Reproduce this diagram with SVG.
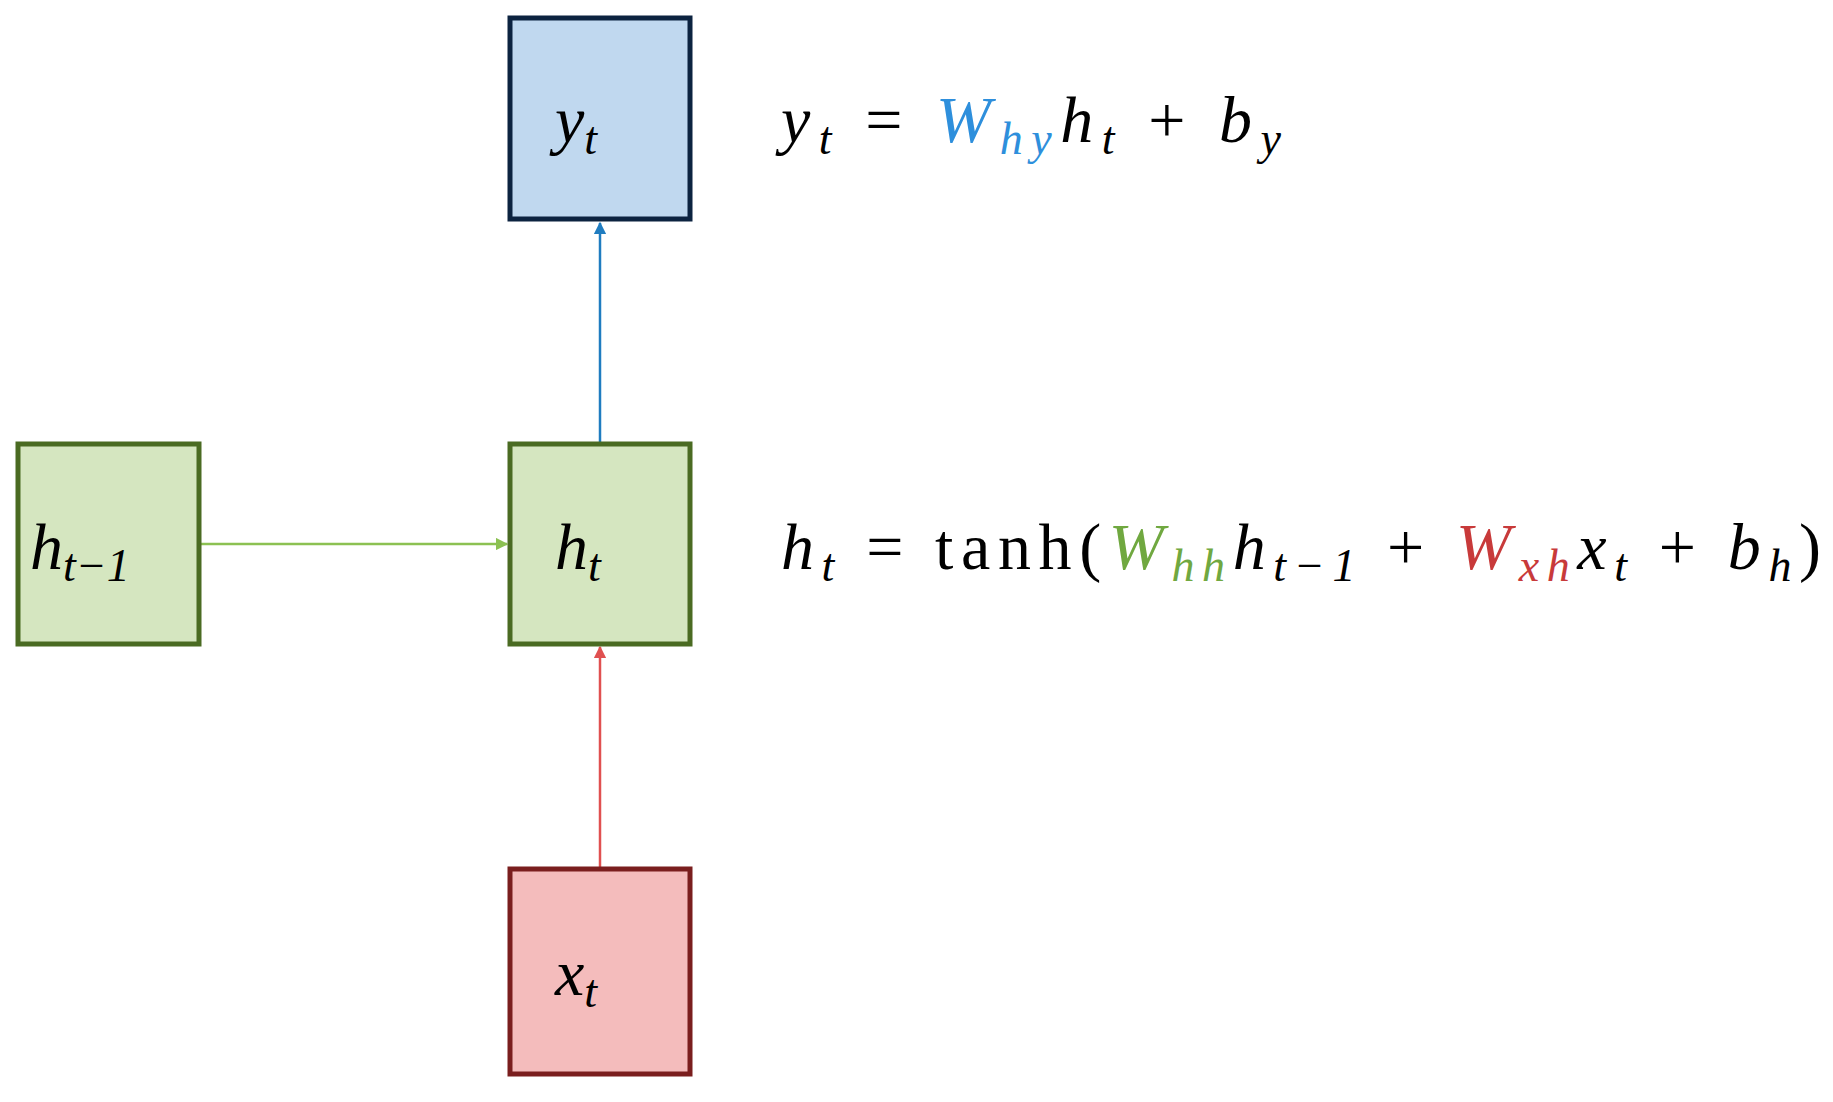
<svg xmlns="http://www.w3.org/2000/svg" width="1833" height="1102" viewBox="0 0 1833 1102">
<style>
text{font-family:"Liberation Serif","DejaVu Serif",serif;font-size:66px;fill:#000}
.i{font-style:italic}
.s{font-size:46px}
.box{stroke-width:5}
</style>
<defs>
<marker id="ab" viewBox="0 0 10 10" refX="9" refY="5" markerWidth="5" markerHeight="5" orient="auto"><path d="M0,0L10,5L0,10z" fill="#1f7cc0"/></marker>
<marker id="ag" viewBox="0 0 10 10" refX="9" refY="5" markerWidth="5" markerHeight="5" orient="auto"><path d="M0,0L10,5L0,10z" fill="#8cc152"/></marker>
<marker id="ar" viewBox="0 0 10 10" refX="9" refY="5" markerWidth="5" markerHeight="5" orient="auto"><path d="M0,0L10,5L0,10z" fill="#e05050"/></marker>
</defs>
<g id="connectors" stroke-width="2.5" fill="none">
<line x1="600" y1="444" x2="600" y2="223" stroke="#1f7cc0" marker-end="url(#ab)"/>
<line x1="199" y1="544" x2="507" y2="544" stroke="#8cc152" marker-end="url(#ag)"/>
<line x1="600" y1="869" x2="600" y2="647" stroke="#e05050" marker-end="url(#ar)"/>
</g>
<g id="yt"><rect class="box" x="510" y="18" width="180" height="201" fill="#c0d8ef" stroke="#0c2340"/>
<text x="555" y="142" class="i">y<tspan class="s" dy="12">t</tspan></text></g>
<g id="ht"><rect class="box" x="510" y="444" width="180" height="200" fill="#d5e6c0" stroke="#4a6b22"/>
<text x="555" y="569" class="i">h<tspan class="s" dy="12">t</tspan></text></g>
<g id="htm1"><rect class="box" x="18" y="444" width="181" height="200" fill="#d5e6c0" stroke="#4a6b22"/>
<text x="30" y="569" class="i">h<tspan class="s" dy="12">t−1</tspan></text></g>
<g id="xt"><rect class="box" x="510" y="869" width="180" height="205" fill="#f4bcbc" stroke="#7a1e1e"/>
<text x="555" y="995" class="i">x<tspan class="s" dy="12">t</tspan></text></g>
<g id="eq1"><text x="781" y="142" textLength="500" lengthAdjust="spacing"><tspan class="i">y</tspan><tspan class="s i" dy="12">t</tspan><tspan dy="-12"> = </tspan><tspan class="i" fill="#2e8fdc">W</tspan><tspan class="s i" fill="#2e8fdc" dy="12">hy</tspan><tspan class="i" dy="-12">h</tspan><tspan class="s i" dy="12">t</tspan><tspan dy="-12"> + </tspan><tspan class="i">b</tspan><tspan class="s i" dy="12">y</tspan></text></g>
<g id="eq2"><text x="781" y="569" textLength="1040" lengthAdjust="spacing"><tspan class="i">h</tspan><tspan class="s i" dy="12">t</tspan><tspan dy="-12"> = tanh(</tspan><tspan class="i" fill="#70a840">W</tspan><tspan class="s i" fill="#70a840" dy="12">hh</tspan><tspan class="i" dy="-12">h</tspan><tspan class="s i" dy="12">t−1</tspan><tspan dy="-12"> + </tspan><tspan class="i" fill="#c83a3a">W</tspan><tspan class="s i" fill="#c83a3a" dy="12">xh</tspan><tspan class="i" dy="-12">x</tspan><tspan class="s i" dy="12">t</tspan><tspan dy="-12"> + </tspan><tspan class="i">b</tspan><tspan class="s i" dy="12">h</tspan><tspan dy="-12">)</tspan></text></g>
</svg>
